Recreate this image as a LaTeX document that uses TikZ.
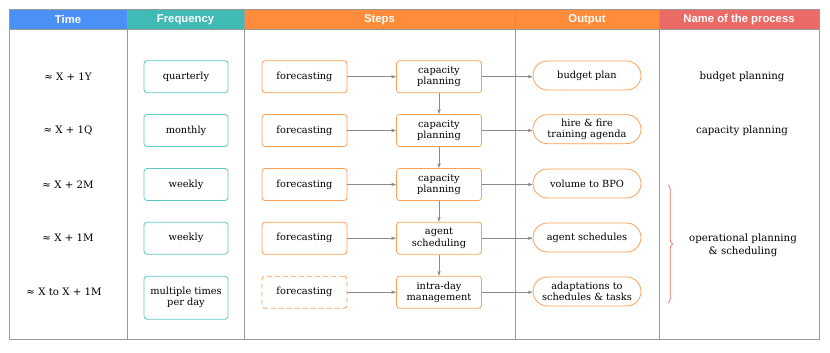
\documentclass[tikz,border=0pt]{standalone}
\usepackage{fontspec}
\setmainfont{DejaVu Serif}
\newfontfamily\hdrfont{Liberation Sans}
\usetikzlibrary{shapes.misc,arrows.meta,decorations.pathreplacing}
\definecolor{hblue}{HTML}{4A90F5}
\definecolor{hteal}{HTML}{3FBAB5}
\definecolor{horange}{HTML}{FF8C3A}
\definecolor{hred}{HTML}{EA6B66}
\definecolor{gridc}{HTML}{9A9A9A}
\definecolor{tealb}{HTML}{5CC8C4}
\definecolor{orangeb}{HTML}{FF9E55}
\definecolor{arrc}{HTML}{8A8A8A}
\tikzset{
  hdr/.style={font=\hdrfont\bfseries\fontsize{11.3}{13}\selectfont, text=white},
  txt/.style={font=\fontsize{9.8}{11.2}\selectfont, align=center},
  freqbox/.style={txt, draw=tealb, line width=0.8pt, rounded corners=3pt, minimum width=84pt, minimum height=32pt, inner sep=1pt},
  stepbox/.style={txt, draw=orangeb, line width=0.8pt, rounded corners=3pt, minimum width=85pt, minimum height=32pt, inner sep=1pt},
  outbox/.style={txt, draw=orangeb, line width=0.8pt, rounded rectangle, minimum width=110pt, minimum height=29pt, inner sep=1pt},
  conn/.style={draw=arrc, line width=0.6pt, -{Stealth[length=5pt,width=3.5pt]}},
  plain/.style={txt, font=\fontsize{10.2}{12.5}\selectfont},
}
\begin{document}
\begin{tikzpicture}[x=1pt,y=-1pt]
\useasboundingbox (0,0) rectangle (830,353);
% header fills
\fill[hblue] (9,10) rectangle (127,30);
\fill[hteal] (127,10) rectangle (244,30);
\fill[horange] (244,10) rectangle (515,30);
\fill[horange] (515,10) rectangle (659,30);
\fill[hred] (659,10) rectangle (819,30);
% grid
\draw[gridc, line width=1pt] (9,10) rectangle (819,339);
\draw[gridc, line width=1pt] (9,30) -- (819,30);
\foreach \xx in {127,244,515,659} \draw[gridc, line width=1pt] (\xx,10) -- (\xx,339);
% header texts
\node[hdr] (hTime) at (68,19.5) {Time};
\node[hdr] (hFreq) at (185.5,19.5) {Frequency};
\node[hdr] (hSteps) at (379.5,19.5) {Steps};
\node[hdr] (hOut) at (587,19.5) {Output};
\node[hdr] (hName) at (739,19.5) {Name of the process};
% time column
\node[plain] (t1) at (68,76.7) {≈ X + 1Y};
\node[plain] (t2) at (68,130.5) {≈ X + 1Q};
\node[plain] (t3) at (68,184.5) {≈ X + 2M};
\node[plain] (t4) at (68,238.2) {≈ X + 1M};
\node[plain] (t5) at (64,292.2) {≈ X to X + 1M};
% frequency column
\node[freqbox] (f1) at (186,76.7) {quarterly};
\node[freqbox] (f2) at (186,130.5) {monthly};
\node[freqbox] (f3) at (186,184.5) {weekly};
\node[freqbox] (f4) at (186,238.2) {weekly};
\node[freqbox, minimum height=43pt] (f5) at (186,297.7) {multiple times\\per day};
% forecasting
\node[stepbox] (fc1) at (304.5,76.7) {forecasting};
\node[stepbox] (fc2) at (304.5,130.5) {forecasting};
\node[stepbox] (fc3) at (304.5,184.5) {forecasting};
\node[stepbox] (fc4) at (304.5,238.2) {forecasting};
\node[stepbox, dashed, dash pattern=on 5pt off 3pt] (fc5) at (304.5,292.2) {forecasting};
% second step
\node[stepbox] (s1) at (439,76.7) {capacity\\planning};
\node[stepbox] (s2) at (439,130.5) {capacity\\planning};
\node[stepbox] (s3) at (439,184.5) {capacity\\planning};
\node[stepbox] (s4) at (439,238.2) {agent\\scheduling};
\node[stepbox] (s5) at (439,292.2) {intra-day\\management};
% outputs
\node[outbox] (o1) at (587,75.5) {budget plan};
\node[outbox] (o2) at (587,129.2) {hire \& fire\\training agenda};
\node[outbox] (o3) at (587,183.5) {volume to BPO};
\node[outbox] (o4) at (587,237.5) {agent schedules};
\node[outbox] (o5) at (587,291.5) {adaptations to\\schedules \& tasks};
% connectors
\foreach \i in {1,...,5} {
  \draw[conn] (fc\i.east) -- (s\i.west);
  \draw[conn] (s\i.east) -- (s\i.east -| o\i.west);
}
\draw[conn] (s1) -- (s2);
\draw[conn] (s2) -- (s3);
\draw[conn] (s3) -- (s4);
\draw[conn] (s4) -- (s5);
% name column
\node[plain] (n1) at (742,77) {budget planning};
\node[plain] (n2) at (742,131) {capacity planning};
\node[plain] (n3) at (743,245.5) {operational planning\\\& scheduling};
\coordinate (bt) at (668,185);
\coordinate (bb) at (668,303);
\draw[hred, line width=0.7pt, decorate, decoration={brace, amplitude=4.5pt}] (bt) -- (bb);
\end{tikzpicture}
\end{document}
